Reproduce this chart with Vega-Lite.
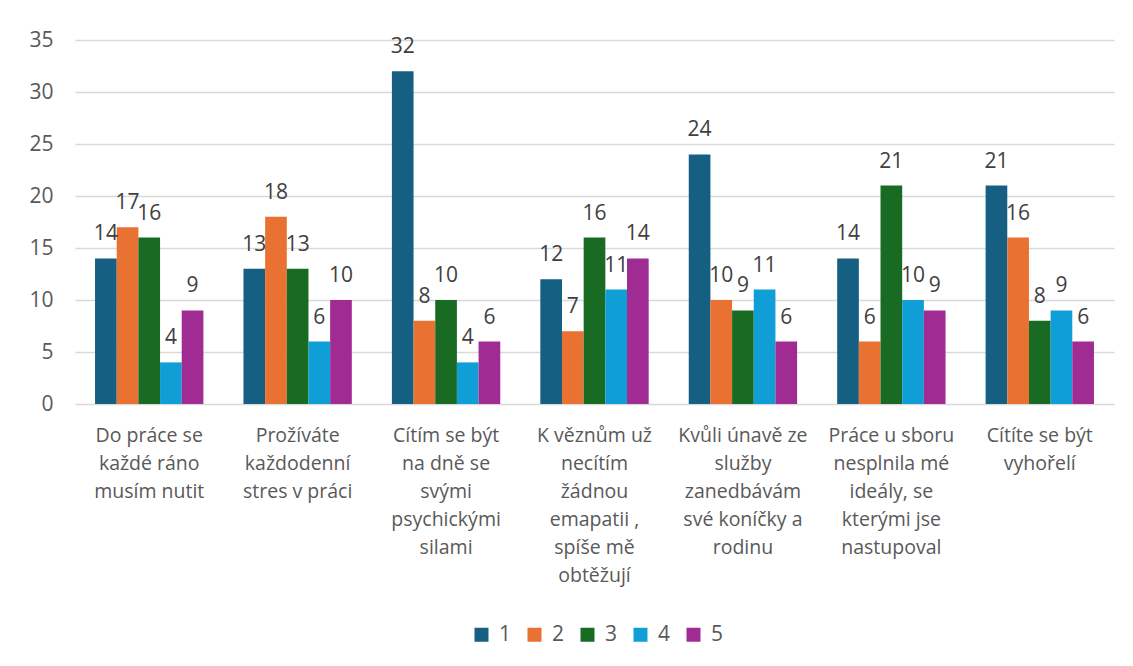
{
  "$schema": "https://vega.github.io/schema/vega-lite/v6.json",
  "autosize": {"type": "none"},
  "width": 1039,
  "height": 364,
  "padding": {"left": 75, "top": 40, "right": 19, "bottom": 262},
  "background": "white",
  "config": {
    "font": "Open Sans",
    "view": {"stroke": null}
  },
  "data": {
    "values": [
      {"q": "Do práce se|každé ráno|musím nutit", "s": "1", "v": 14},
      {"q": "Do práce se|každé ráno|musím nutit", "s": "2", "v": 17},
      {"q": "Do práce se|každé ráno|musím nutit", "s": "3", "v": 16},
      {"q": "Do práce se|každé ráno|musím nutit", "s": "4", "v": 4},
      {"q": "Do práce se|každé ráno|musím nutit", "s": "5", "v": 9},
      {"q": "Prožíváte|každodenní|stres v práci", "s": "1", "v": 13},
      {"q": "Prožíváte|každodenní|stres v práci", "s": "2", "v": 18},
      {"q": "Prožíváte|každodenní|stres v práci", "s": "3", "v": 13},
      {"q": "Prožíváte|každodenní|stres v práci", "s": "4", "v": 6},
      {"q": "Prožíváte|každodenní|stres v práci", "s": "5", "v": 10},
      {"q": "Cítím se být|na dně se|svými|psychickými|silami", "s": "1", "v": 32},
      {"q": "Cítím se být|na dně se|svými|psychickými|silami", "s": "2", "v": 8},
      {"q": "Cítím se být|na dně se|svými|psychickými|silami", "s": "3", "v": 10},
      {"q": "Cítím se být|na dně se|svými|psychickými|silami", "s": "4", "v": 4},
      {"q": "Cítím se být|na dně se|svými|psychickými|silami", "s": "5", "v": 6},
      {"q": "K věznům už|necítím|žádnou|emapatii ,|spíše mě|obtěžují", "s": "1", "v": 12},
      {"q": "K věznům už|necítím|žádnou|emapatii ,|spíše mě|obtěžují", "s": "2", "v": 7},
      {"q": "K věznům už|necítím|žádnou|emapatii ,|spíše mě|obtěžují", "s": "3", "v": 16},
      {"q": "K věznům už|necítím|žádnou|emapatii ,|spíše mě|obtěžují", "s": "4", "v": 11},
      {"q": "K věznům už|necítím|žádnou|emapatii ,|spíše mě|obtěžují", "s": "5", "v": 14},
      {"q": "Kvůli únavě ze|služby|zanedbávám|své koníčky a|rodinu", "s": "1", "v": 24},
      {"q": "Kvůli únavě ze|služby|zanedbávám|své koníčky a|rodinu", "s": "2", "v": 10},
      {"q": "Kvůli únavě ze|služby|zanedbávám|své koníčky a|rodinu", "s": "3", "v": 9},
      {"q": "Kvůli únavě ze|služby|zanedbávám|své koníčky a|rodinu", "s": "4", "v": 11},
      {"q": "Kvůli únavě ze|služby|zanedbávám|své koníčky a|rodinu", "s": "5", "v": 6},
      {"q": "Práce u sboru|nesplnila mé|ideály, se|kterými jse|nastupoval", "s": "1", "v": 14},
      {"q": "Práce u sboru|nesplnila mé|ideály, se|kterými jse|nastupoval", "s": "2", "v": 6},
      {"q": "Práce u sboru|nesplnila mé|ideály, se|kterými jse|nastupoval", "s": "3", "v": 21},
      {"q": "Práce u sboru|nesplnila mé|ideály, se|kterými jse|nastupoval", "s": "4", "v": 10},
      {"q": "Práce u sboru|nesplnila mé|ideály, se|kterými jse|nastupoval", "s": "5", "v": 9},
      {"q": "Cítíte se být|vyhořelí", "s": "1", "v": 21},
      {"q": "Cítíte se být|vyhořelí", "s": "2", "v": 16},
      {"q": "Cítíte se být|vyhořelí", "s": "3", "v": 8},
      {"q": "Cítíte se být|vyhořelí", "s": "4", "v": 9},
      {"q": "Cítíte se být|vyhořelí", "s": "5", "v": 6}
    ]
  },
  "encoding": {
    "x": {
      "field": "q", "type": "nominal", "sort": null,
      "scale": {"paddingInner": 0.27, "paddingOuter": 0.135},
      "axis": {
        "title": null, "labelAngle": 0, "domain": false, "ticks": false,
        "labelExpr": "split(datum.label, '|')",
        "labelFont": "Open Sans", "labelFontSize": 19.5, "labelLineHeight": 28, "labelColor": "#595959",
        "labelPadding": 22, "labelBaseline": "top", "labelLimit": 200
      }
    },
    "xOffset": {"field": "s", "type": "nominal", "scale": {"paddingInner": 0, "paddingOuter": 0}},
    "y": {
      "field": "v", "type": "quantitative",
      "scale": {"domain": [0, 35], "nice": false},
      "axis": {
        "title": null, "values": [0, 5, 10, 15, 20, 25, 30, 35],
        "domain": false, "ticks": false, "labelFontSize": 21, "labelColor": "#595959",
        "labelPadding": 22, "gridColor": "#d9d9d9", "gridWidth": 1.3
      }
    },
    "color": {
      "field": "s", "type": "nominal",
      "scale": {"domain": ["1", "2", "3", "4", "5"], "range": ["#156082", "#E97132", "#196B24", "#0F9ED5", "#A02B93"]},
      "legend": {
        "title": null, "orient": "none", "direction": "horizontal",
        "legendX": 396, "legendY": 584,
        "symbolType": "square", "symbolSize": 196, "symbolStrokeWidth": 0,
        "labelFontSize": 21, "labelColor": "#595959", "columnPadding": 12,
        "labelOffset": 7
      }
    }
  },
  "layer": [
    {"mark": {"type": "bar"}},
    {
      "mark": {"type": "text", "baseline": "alphabetic", "dy": -18, "fontSize": 21, "color": "#404040"},
      "encoding": {"text": {"field": "v", "type": "quantitative"}, "color": {"value": "#404040"}}
    }
  ]
}
